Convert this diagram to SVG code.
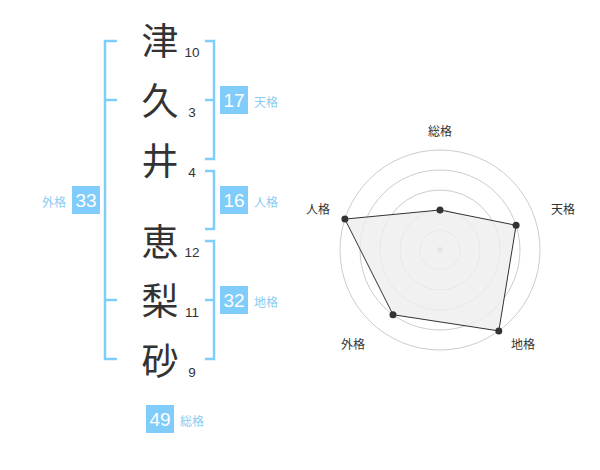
<svg xmlns="http://www.w3.org/2000/svg" width="600" height="470" viewBox="0 0 600 470">
<style>
.kanji{font-family:"Noto Sans CJK JP","Noto Sans CJK SC",sans-serif;font-size:37px;fill:#333;text-anchor:middle;dominant-baseline:central}
.num{font-family:"Liberation Sans",Arial,sans-serif;font-size:13.5px;fill:#333;text-anchor:middle;dominant-baseline:central}
.br{fill:none;stroke:#80ccfa;stroke-width:2.5}
.box{fill:#80ccfa}
.bnum{font-family:"Liberation Sans",Arial,sans-serif;font-size:19px;fill:#fff;text-anchor:middle;dominant-baseline:central}
.lab{font-family:"Noto Sans CJK JP","Noto Sans CJK SC",sans-serif;font-size:12px;fill:#88ccf2;dominant-baseline:central}
.ring{fill:none;stroke:#cccccc;stroke-width:1}
.rl{font-family:"Noto Sans CJK JP","Noto Sans CJK SC",sans-serif;font-size:12px;fill:#333;text-anchor:middle;dominant-baseline:central}
.dot{fill:#333}
</style>
<rect width="600" height="470" fill="#fff"/>
<g id="chars">
<g id="c1"><text class="kanji" x="160" y="39">津</text><text class="num" x="192" y="52">10</text></g>
<g id="c2"><text class="kanji" x="160" y="99">久</text><text class="num" x="192" y="112">3</text></g>
<g id="c3"><text class="kanji" x="160" y="159">井</text><text class="num" x="192" y="172">4</text></g>
<g id="c4"><text class="kanji" x="160" y="240">恵</text><text class="num" x="192" y="252">12</text></g>
<g id="c5"><text class="kanji" x="160" y="299">梨</text><text class="num" x="192" y="312">11</text></g>
<g id="c6"><text class="kanji" x="160" y="359">砂</text><text class="num" x="192" y="372">9</text></g>
</g>
<g id="connectors">
<path class="br" d="M117,41 H105 V359 H117 M105,100 H117 M105,300 H117"/>
<path class="br" d="M205,41 H214 V159 H205 M214,100 H205"/>
<path class="br" d="M205,171 H214 V229 H205"/>
<path class="br" d="M205,241 H214 V359 H205 M214,300 H205"/>
</g>
<g id="tenkaku"><rect class="box" x="220" y="86" width="28" height="28"/><text class="bnum" x="234" y="100">17</text><text class="lab" x="254" y="101">天格</text></g>
<g id="jinkaku"><rect class="box" x="220" y="186" width="28" height="28"/><text class="bnum" x="234" y="200">16</text><text class="lab" x="254" y="201">人格</text></g>
<g id="chikaku"><rect class="box" x="220" y="286" width="28" height="28"/><text class="bnum" x="234" y="300">32</text><text class="lab" x="254" y="301">地格</text></g>
<g id="gaikaku"><rect class="box" x="72" y="186" width="28" height="28"/><text class="bnum" x="86" y="200">33</text><text class="lab" x="42" y="201">外格</text></g>
<g id="soukaku"><rect class="box" x="146" y="405" width="28" height="28"/><text class="bnum" x="160" y="419">49</text><text class="lab" x="180" y="420">総格</text></g>
<g id="radar">
<circle class="ring" cx="440" cy="250" r="20"/>
<circle class="ring" cx="440" cy="250" r="40"/>
<circle class="ring" cx="440" cy="250" r="60"/>
<circle class="ring" cx="440" cy="250" r="80"/>
<circle class="ring" cx="440" cy="250" r="100"/>
<circle cx="440" cy="250" r="3" fill="#c8c8c8"/>
<polygon points="440,210 516.1,225.3 498.8,330.9 393,314.7 344.9,219.1" fill="#eeeeee" fill-opacity="0.8" stroke="#333" stroke-width="1"/>
<circle class="dot" cx="440" cy="210" r="3.5"/>
<circle class="dot" cx="516.1" cy="225.3" r="3.5"/>
<circle class="dot" cx="498.8" cy="330.9" r="3.5"/>
<circle class="dot" cx="393" cy="314.7" r="3.5"/>
<circle class="dot" cx="344.9" cy="219.1" r="3.5"/>
<text class="rl" x="440" y="130">総格</text>
<text class="rl" x="563" y="208">天格</text>
<text class="rl" x="523" y="343">地格</text>
<text class="rl" x="353" y="343">外格</text>
<text class="rl" x="318" y="208">人格</text>
</g>
</svg>
